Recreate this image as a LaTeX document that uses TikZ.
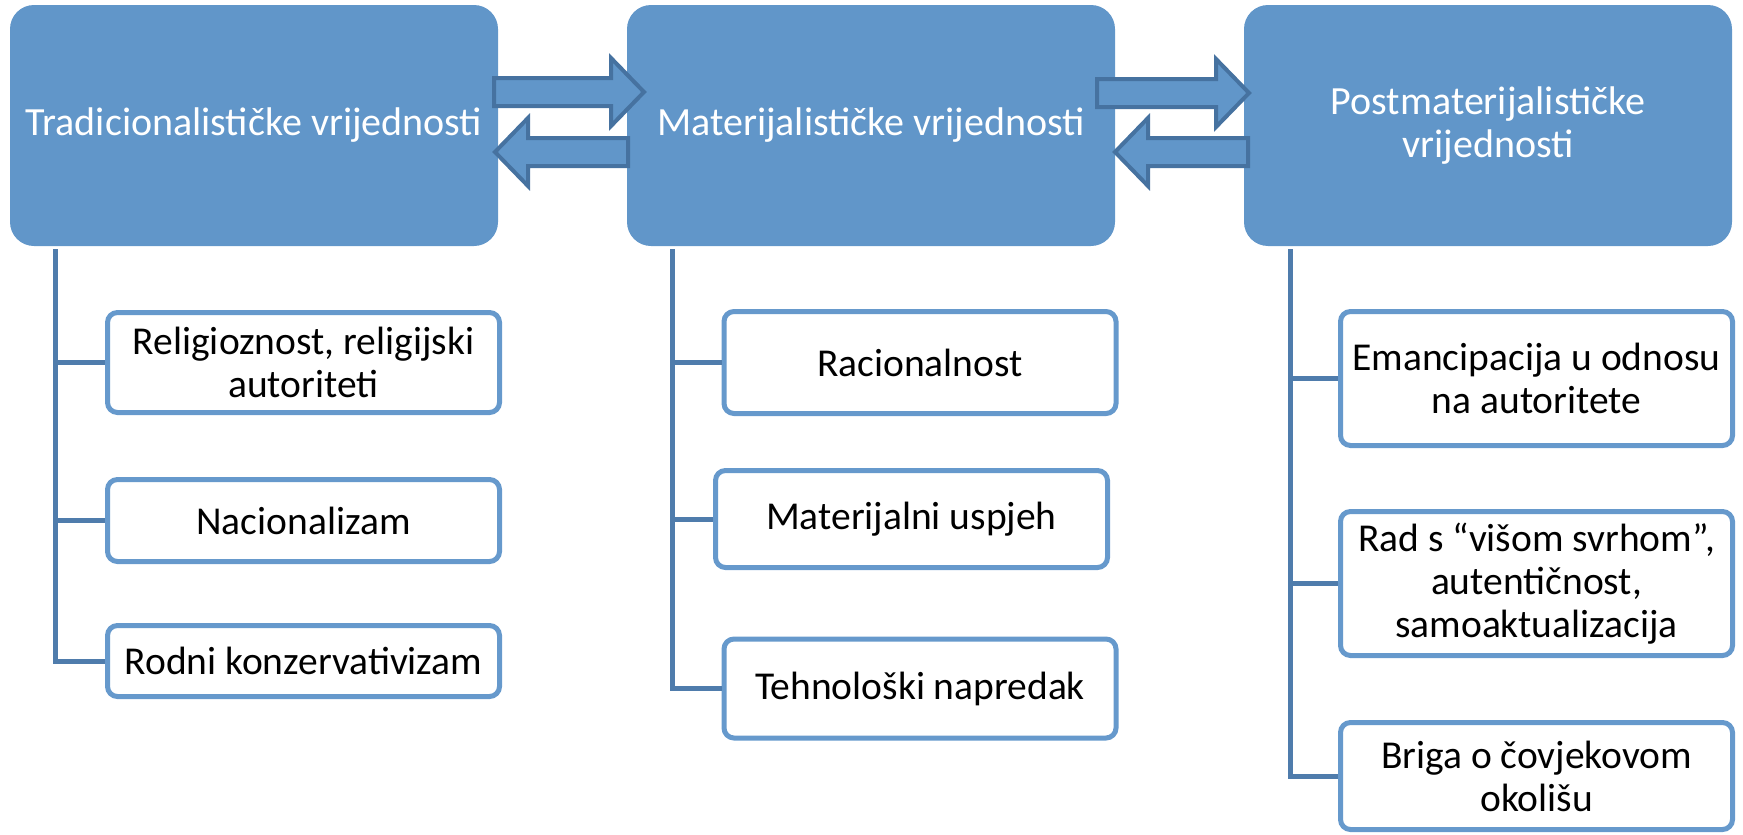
\documentclass[tikz,border=0pt]{standalone}
\usepackage{fontspec}
\setmainfont{Carlito}
\usepackage{tikz}
\usetikzlibrary{calc}

\definecolor{boxblue}{HTML}{6196C9}
\definecolor{arrowline}{HTML}{4672A0}
\definecolor{treeline}{HTML}{4F7CAC}
\definecolor{itemline}{HTML}{6699CC}

\tikzset{
	valuebox/.style={rectangle, rounded corners=24pt, fill=boxblue, text=white,
		minimum width=488pt, minimum height=241pt, inner sep=0pt, align=center,
		font=\fontsize{40}{43}\selectfont},
	itembox/.style={rectangle, rounded corners=10pt, draw=itemline, line width=5pt,
		fill=white, minimum width=392pt, inner sep=0pt, align=center,
		font=\fontsize{39.5}{43}\selectfont},
	tree/.style={draw=treeline, line width=5pt},
	blockarrow/.style={draw=arrowline, fill=boxblue, line width=4pt, line join=miter}
}

% tail x, tip x, middle y
\newcommand{\valarrow}[3]{
	\pgfmathsetmacro{\headx}{#2-33*sign(#2-#1)}
	\draw[blockarrow] (#1,#3-14) -- (\headx,#3-14) -- (\headx,#3-34) -- (#2,#3)
		-- (\headx,#3+34) -- (\headx,#3+14) -- (#1,#3+14) -- cycle;
}

\begin{document}
\begin{tikzpicture}[x=1pt, y=-1pt]
	\useasboundingbox (0,0) rectangle (1743,835);

	% main values
	\node [valuebox] (trad)    at (254,125.5)  {Tradicionalističke vrijednosti};
	\node [valuebox] (mat)     at (871,125.5)  {Materijalističke vrijednosti};
	\node [valuebox] (postmat) at (1488,125.5) {Postmaterijalističke\\vrijednosti};

	% items
	\node [itembox, minimum height=100pt] (rel) at (303.5,362.5) {Religioznost, religijski\\autoriteti};
	\node [itembox, minimum height=82pt]  (nac) at (303.5,520.5) {Nacionalizam};
	\node [itembox, minimum height=71pt]  (rod) at (303.5,661)   {Rodni konzervativizam};

	\node [itembox, minimum height=102pt] (rac) at (920,362.5)   {Racionalnost};
	\node [itembox, minimum height=97pt]  (mus) at (911.5,519)   {Materijalni uspjeh};
	\node [itembox, minimum height=99pt]  (teh) at (920,688.5)   {Tehnološki napredak};

	\node [itembox, minimum height=134pt] (ema) at (1536.5,378.5) {Emancipacija u odnosu\\na autoritete};
	\node [itembox, minimum height=144pt] (rad) at (1536.5,583.5) {Rad s “višom svrhom”,\\autentičnost,\\samoaktualizacija};
	\node [itembox, minimum height=107pt] (bri) at (1536.5,776)   {Briga o čovjekovom\\okolišu};

	% tree lines
	\coordinate (tradroot)    at ($(trad.south west)+(46,3)$);
	\coordinate (matroot)     at ($(mat.south west)+(46,3)$);
	\coordinate (postmatroot) at ($(postmat.south west)+(47,3)$);
	\foreach \item in {rel,nac,rod}
		\draw [tree] (tradroot) |- (\item.west);
	\foreach \item in {rac,mus,teh}
		\draw [tree] (matroot) |- (\item.west);
	\foreach \item in {ema,rad,bri}
		\draw [tree] (postmatroot) |- (\item.west);

	% arrows between values
	\valarrow{494}{644}{92}
	\valarrow{628}{495}{152}
	\valarrow{1097}{1249}{93}
	\valarrow{1248}{1115}{152}
\end{tikzpicture}
\end{document}
